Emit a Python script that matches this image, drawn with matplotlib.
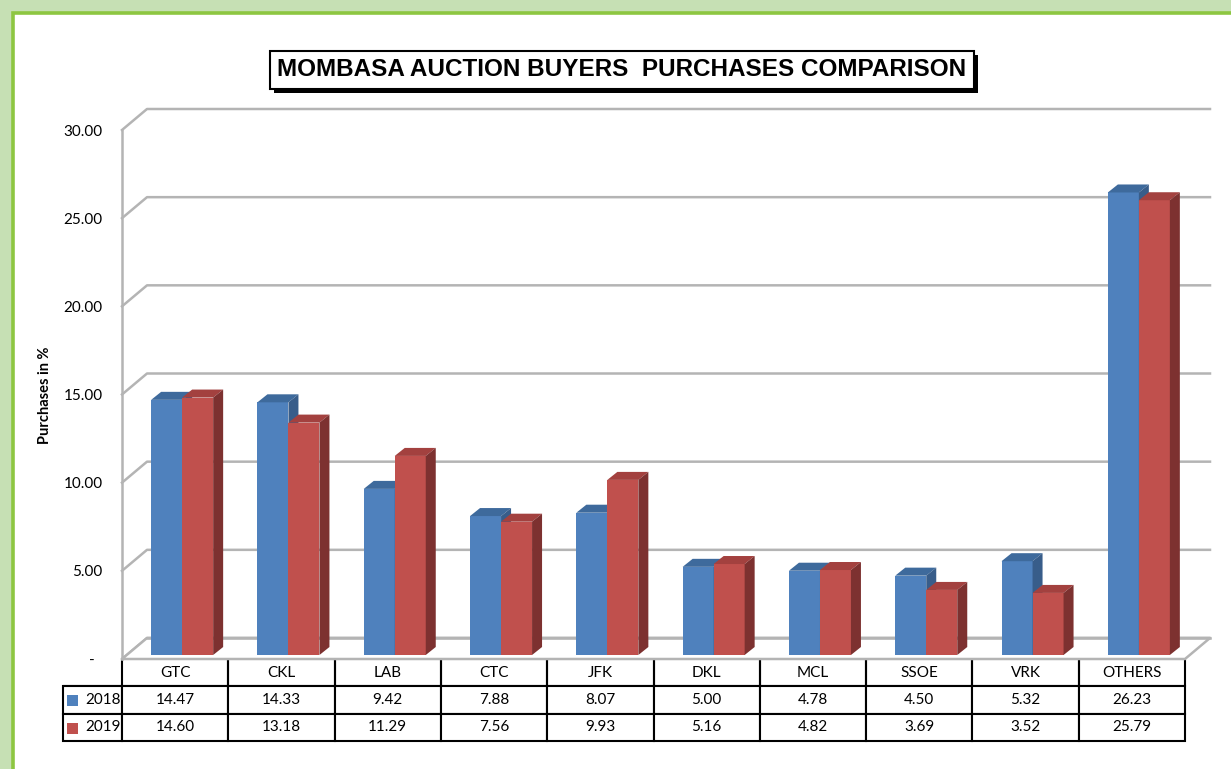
import numpy as np
import matplotlib.pyplot as plt
from matplotlib.patches import Polygon, Rectangle
import matplotlib.patheffects as pe

# data
buyers = ["GTC", "CKL", "LAB", "CTC", "JFK", "DKL", "MCL", "SSOE", "VRK", "OTHERS"]
years = ["2018", "2019"]
p2018 = [14.47, 14.33, 9.42, 7.88, 8.07, 5.00, 4.78, 4.50, 5.32, 26.23]
p2019 = [14.60, 13.18, 11.29, 7.56, 9.93, 5.16, 4.82, 3.69, 3.52, 25.79]
yticks = [0, 5, 10, 15, 20, 25, 30]
ytick_labels = ["-  ", "5.00", "10.00", "15.00", "20.00", "25.00", "30.00"]

# colours: front, top, side
blue = ("#4f81bd", "#3e6a9c", "#385d8a")
red = ("#c0504d", "#a3413f", "#7d3130")
grid_c = "#b4b4b4"

plt.rcParams['font.family'] = ['Lato', 'DejaVu Sans']

W, H = 1231, 769
fig = plt.figure(figsize=(W / 100, H / 100), dpi=100)
fig.patch.set_facecolor("#c6e0b4")
fig.add_artist(Rectangle((13 / W, -0.1), 1.2, 1 - 13 / H + 0.1, transform=fig.transFigure,
                         facecolor="white", edgecolor="#8dc641", linewidth=2.6, zorder=0))

# front plane of the 3d box, in pixels
x_l, x_r, y_t, y_b = 122, 1185, 130, 659
ax = fig.add_axes([x_l / W, 1 - y_b / H, (x_r - x_l) / W, (y_b - y_t) / H])
ax.set_xlim(-0.5, 9.5)
ax.set_ylim(0, 30)
ax.patch.set_alpha(0)
for s in ax.spines.values():
    s.set_visible(False)
ax.set_xticks([])
ax.set_yticks(yticks)
ax.set_yticklabels(ytick_labels, fontsize=11)
ax.tick_params(axis='y', length=0, pad=14)

n = len(buyers)
px_x = (x_r - x_l) / n
px_y = (y_b - y_t) / 30.0
dx = 25 / px_x     # depth of the box
dy = 21 / px_y

# walls and floor
for v in yticks:
    ax.plot([-0.5, -0.5 + dx, 9.5 + dx], [v, v + dy, v + dy], color=grid_c, lw=1.8,
            clip_on=False, zorder=1)
ax.plot([-0.5, -0.5], [0, 30], color=grid_c, lw=1.8, clip_on=False, zorder=1)
ax.add_patch(Polygon([(-0.5, 0), (9.5, 0), (9.5 + dx, dy), (-0.5 + dx, dy)], closed=True,
                     facecolor="white", edgecolor=grid_c, lw=1.8, clip_on=False, zorder=1.5))
ax.plot([-0.5 + dx, 9.5 + dx], [dy, dy], color=grid_c, lw=1.8, clip_on=False, zorder=1.6)

# bars
x = np.arange(n)
bw = 31 / px_x
bdx = 10 / px_x
bdy = 8 / px_y
base = 4 / px_y
offsets = [-24 / px_x, -24 / px_x + bw]
z = 3
for vals, col, off in zip([p2018, p2019], [blue, red], offsets):
    ax.bar(x + off, vals, width=bw, bottom=base, align='edge', color=col[0],
           zorder=z, clip_on=False)
    for xi, v in zip(x, vals):
        x0 = xi + off
        x1 = x0 + bw
        top = base + v
        ax.add_patch(Polygon([(x0, top), (x0 + bdx, top + bdy), (x1 + bdx, top + bdy), (x1, top)],
                             closed=True, facecolor=col[1], edgecolor='none', zorder=z, clip_on=False))
        ax.add_patch(Polygon([(x1, base), (x1, top), (x1 + bdx, top + bdy), (x1 + bdx, base + bdy)],
                             closed=True, facecolor=col[2], edgecolor='none', zorder=z, clip_on=False))
    z += 1

# data table
lab_w = 59
rows = [[""] + buyers,
        ["2018"] + ["%.2f" % v for v in p2018],
        ["2019"] + ["%.2f" % v for v in p2019]]
tot_w = lab_w + (x_r - x_l)
tb = ax.table(cellText=rows, cellLoc='center',
              colWidths=[lab_w / tot_w] + [px_x / tot_w] * n,
              bbox=[-lab_w / (x_r - x_l), -(741 - y_b) / (y_b - y_t), tot_w / (x_r - x_l),
                    (741 - y_b) / (y_b - y_t)])
tb.auto_set_font_size(False)
tb.set_fontsize(11)
for (r, c), cell in tb.get_celld().items():
    cell.set_linewidth(1.5)
    cell.set_edgecolor("black")
    if r == 0 and c == 0:
        cell.visible_edges = "B"
    elif r == 0:
        cell.visible_edges = "LRB"
    if c == 0 and r > 0:
        cell.get_text().set_ha('right')
        cell.PAD = 0.02

# legend keys in the row labels
for i, col in enumerate([blue, red]):
    yc = 700 + i * 28
    ax.add_patch(Rectangle(((67 - x_l) / (x_r - x_l), (y_b - yc - 5.5) / (y_b - y_t)),
                           11 / (x_r - x_l), 11 / (y_b - y_t), transform=ax.transAxes,
                           facecolor=col[0], edgecolor='none', clip_on=False, zorder=6))

fig.text(45 / W, 1 - 395 / H, "Purchases in %", rotation=90, ha='center', va='center',
         fontsize=10.5, fontweight='bold')

t = fig.text(622 / W, 1 - 70 / H, "MOMBASA AUCTION BUYERS  PURCHASES COMPARISON",
             ha='center', va='center', fontsize=17.5, fontweight='bold',
             family=['Liberation Sans', 'DejaVu Sans'],
             bbox=dict(boxstyle='square,pad=0.3', facecolor='white', edgecolor='black', lw=1.5))
t.get_bbox_patch().set_path_effects([pe.SimplePatchShadow(offset=(3, -3), shadow_rgbFace='black',
                                                          alpha=1), pe.Normal()])

fig.savefig("out.png", dpi=100, facecolor=fig.get_facecolor())
